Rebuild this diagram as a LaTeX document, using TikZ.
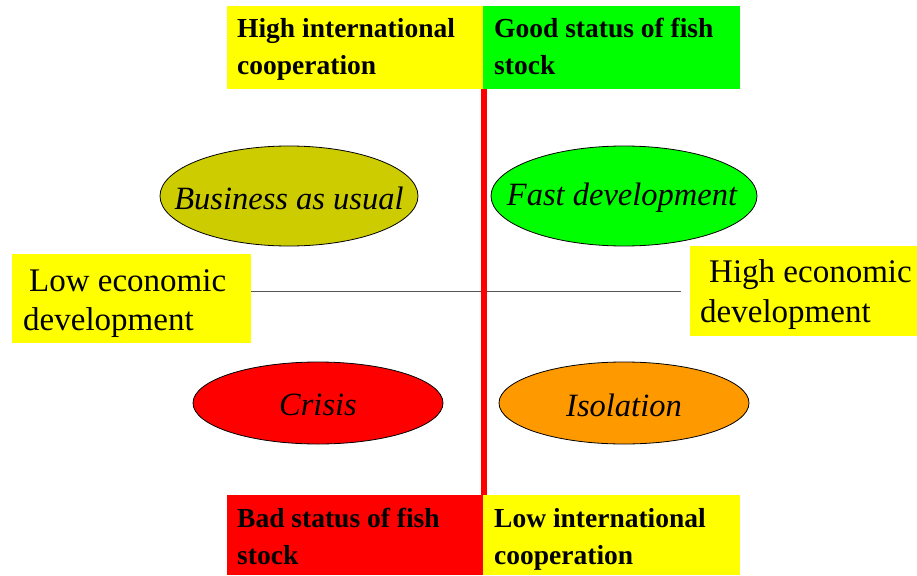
\documentclass[tikz,border=0pt]{standalone}
\usepackage{fontspec}
\setmainfont{Liberation Serif}
\usetikzlibrary{shapes.geometric}
\definecolor{boxyellow}{HTML}{FFFF00}
\definecolor{boxgreen}{HTML}{00FF00}
\definecolor{boxred}{HTML}{FF0000}
\definecolor{olive}{HTML}{CCCC00}
\definecolor{orangefill}{HTML}{FF9900}
\definecolor{axisgray}{HTML}{555555}
\begin{document}
\begin{tikzpicture}[x=1pt,y=-1pt,
  panel/.style={draw=none,inner sep=0pt,outer sep=0pt,anchor=north west},
  tag/.style={anchor=base west,inner sep=0pt,font=\fontsize{27.5}{37}\selectfont\bfseries,align=left},
  axislabel/.style={anchor=base west,inner sep=0pt,font=\fontsize{33}{39}\selectfont},
  scenario/.style={ellipse,draw=black,line width=0.8pt,inner sep=0pt},
  scenariotext/.style={font=\fontsize{32.5}{39}\selectfont\itshape,yshift=-2pt},
]
\useasboundingbox (0,0) rectangle (917,575);

% coloured panels
\node[panel,fill=boxyellow,minimum width=256,minimum height=83] (hic) at (227,6) {};
\node[panel,fill=boxgreen,minimum width=257,minimum height=83] (good) at (483,6) {};
\node[panel,fill=boxred,minimum width=256,minimum height=80] (bad) at (227,495) {};
\node[panel,fill=boxyellow,minimum width=257,minimum height=80] (lic) at (483,495) {};
\node[panel,fill=boxyellow,minimum width=239,minimum height=89] (led) at (12,254) {};
\node[panel,fill=boxyellow,minimum width=227,minimum height=90] (hed) at (690,246) {};

% axes
\coordinate (hstart) at (251,291.5);
\coordinate (hend) at (681,291.5);
\draw[axisgray,line width=1.1pt] (hstart) -- (hend);
\coordinate (vtop) at (484,89);
\coordinate (vbot) at (484,495);
\draw[boxred,line width=5.5pt] (vtop) -- (vbot);

% scenarios
\node[scenario,fill=olive,minimum width=258,minimum height=100,
  label={[scenariotext]center:Business as usual}] (bau) at (289,196) {};
\node[scenario,fill=boxgreen,minimum width=266,minimum height=100,
  label={[scenariotext,xshift=-2pt]center:Fast development}] (fast) at (624,196) {};
\node[scenario,fill=boxred,minimum width=250,minimum height=82,
  label={[scenariotext]center:Crisis}] (crisis) at (318,403) {};
\node[scenario,fill=orangefill,minimum width=250,minimum height=82,
  label={[scenariotext]center:Isolation}] (iso) at (624,403) {};

% panel labels (anchored on the baseline of their last line)
\node[tag] (t1) at (237,75) {High international\\cooperation};
\node[tag] (t2) at (494,75) {Good status of fish\\stock};
\node[tag] (t3) at (237,564) {Bad status of fish\\stock};
\node[tag] (t4) at (494,564) {Low international\\cooperation};
\node[axislabel] (a1) at (29,291) {Low economic};
\node[axislabel] (a2) at (23,330) {development};
\node[axislabel] (a3) at (709,282) {High economic};
\node[axislabel] (a4) at (700,322) {development};
\end{tikzpicture}
\end{document}
